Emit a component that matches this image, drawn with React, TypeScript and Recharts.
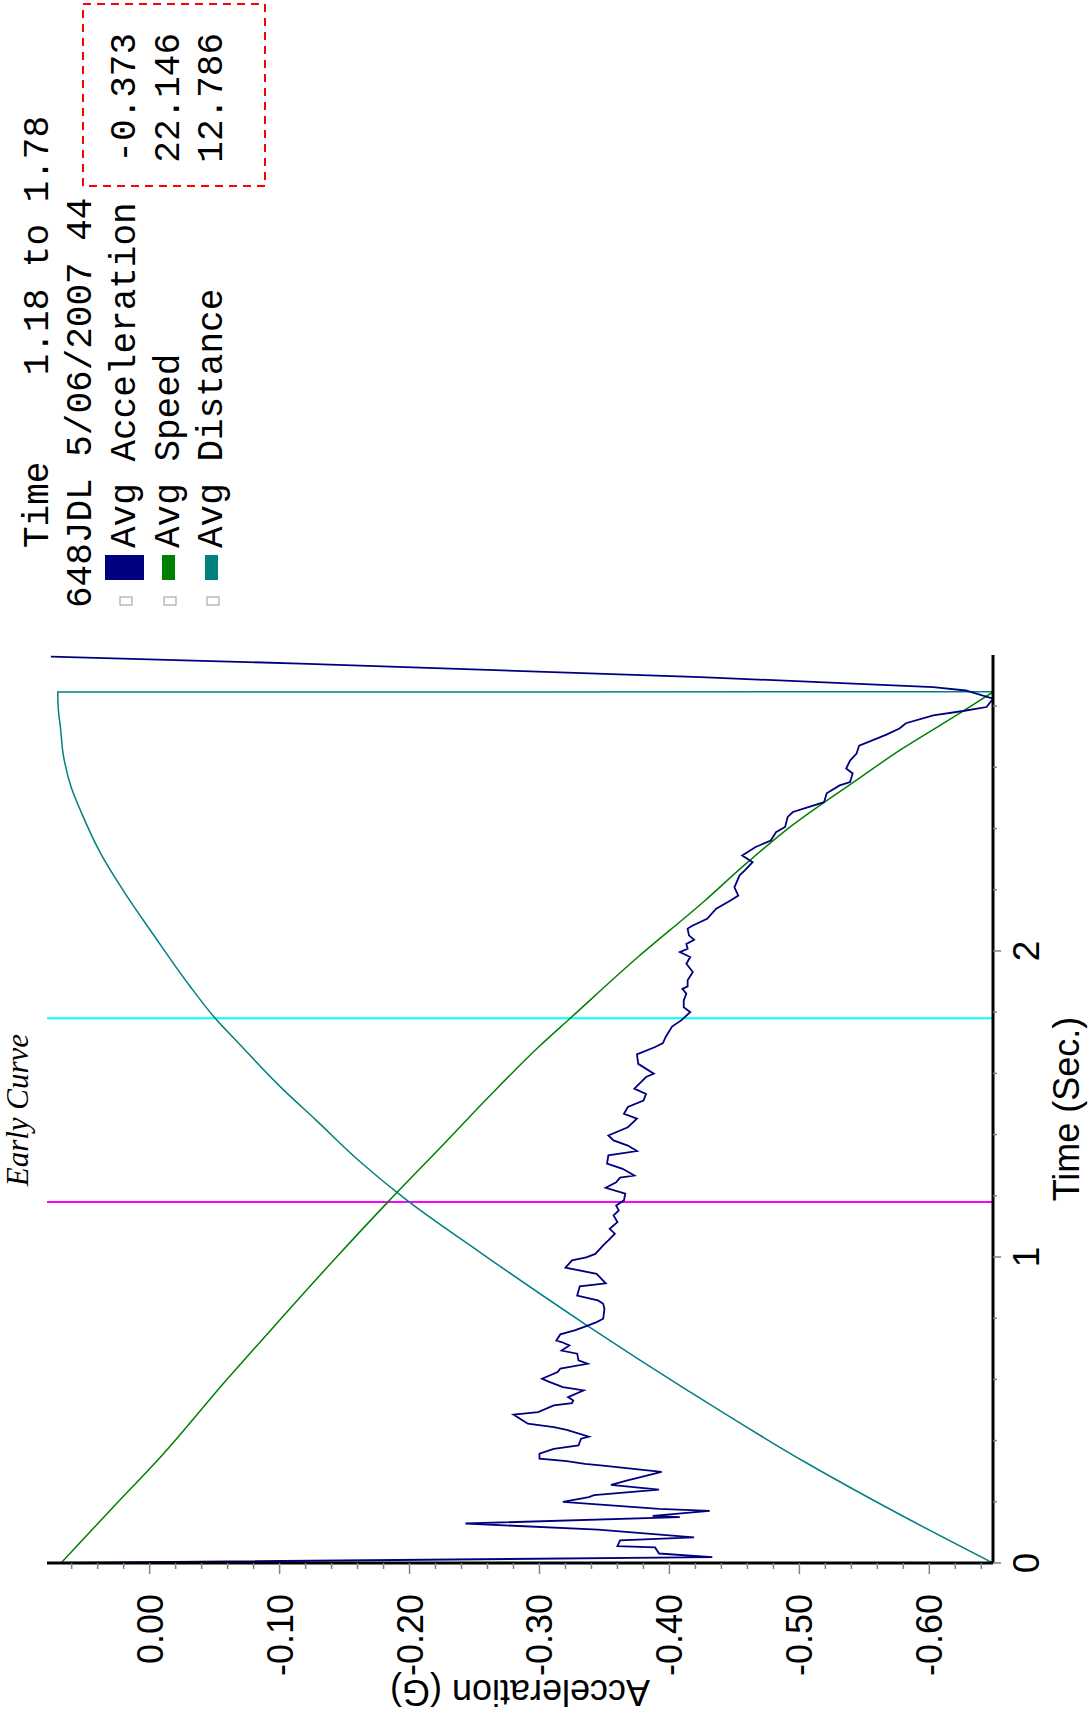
import React from "react";
import {
  LineChart,
  Line,
  XAxis,
  YAxis,
  ReferenceLine,
  ReferenceArea,
} from "recharts";

// chart is drawn in its natural orientation, then the whole thing is turned 90deg ccw
const CHART_W = 1719;
const CHART_H = 1092;

// acceleration (G) vs time (s)
const accTime = [
  0, 0.019, 0.031, 0.051, 0.055, 0.074, 0.084, 0.109, 0.129, 0.15,
  0.154, 0.17, 0.177, 0.188, 0.2, 0.215, 0.222, 0.24, 0.255, 0.269,
  0.298, 0.319, 0.324, 0.333, 0.341, 0.357, 0.373, 0.384, 0.406, 0.413,
  0.435, 0.444, 0.455, 0.485, 0.493, 0.515, 0.522, 0.531, 0.542, 0.564,
  0.575, 0.591, 0.602, 0.624, 0.635, 0.651, 0.662, 0.684, 0.694, 0.711,
  0.722, 0.727, 0.747, 0.76, 0.771, 0.787, 0.798, 0.831, 0.847, 0.858,
  0.874, 0.904, 0.914, 0.945, 0.965, 0.989, 0.999, 1.01, 1.038, 1.054,
  1.076, 1.092, 1.114, 1.136, 1.152, 1.168, 1.185, 1.207, 1.226, 1.244,
  1.259, 1.266, 1.288, 1.305, 1.332, 1.346, 1.364, 1.381, 1.397, 1.424,
  1.452, 1.468, 1.49, 1.511, 1.533, 1.55, 1.588, 1.599, 1.631, 1.662,
  1.686, 1.699, 1.718, 1.753, 1.773, 1.8, 1.816, 1.838, 1.86, 1.876,
  1.884, 1.904, 1.931, 1.958, 1.98, 1.996, 2.007, 2.023, 2.036, 2.051,
  2.073, 2.083, 2.105, 2.138, 2.165, 2.181, 2.208, 2.247, 2.263, 2.29,
  2.312, 2.339, 2.361, 2.388, 2.405, 2.438, 2.454, 2.486, 2.515, 2.541,
  2.552, 2.58, 2.596, 2.622, 2.645, 2.671, 2.707, 2.727, 2.744, 2.77,
  2.784, 2.797, 2.824, 2.851, 2.862, 2.895, 2.939, 2.962,
];
const accG = [
  0.07, -0.433, -0.392, -0.389, -0.36, -0.362, -0.419, -0.345, -0.243, -0.408,
  -0.387, -0.431, -0.392, -0.355, -0.318, -0.338, -0.342, -0.392, -0.355, -0.367,
  -0.394, -0.347, -0.335, -0.321, -0.3, -0.3, -0.311, -0.33, -0.332, -0.338,
  -0.321, -0.311, -0.291, -0.28, -0.299, -0.311, -0.325, -0.326, -0.322, -0.334,
  -0.318, -0.308, -0.302, -0.314, -0.316, -0.337, -0.33, -0.329, -0.317, -0.323,
  -0.317, -0.313, -0.316, -0.327, -0.334, -0.344, -0.349, -0.35, -0.349, -0.345,
  -0.329, -0.331, -0.351, -0.344, -0.32, -0.325, -0.336, -0.343, -0.349, -0.353,
  -0.358, -0.354, -0.36, -0.357, -0.361, -0.359, -0.365, -0.366, -0.351, -0.359,
  -0.362, -0.373, -0.364, -0.352, -0.353, -0.375, -0.368, -0.357, -0.353, -0.368,
  -0.375, -0.365, -0.368, -0.38, -0.382, -0.373, -0.382, -0.388, -0.376, -0.375,
  -0.389, -0.395, -0.397, -0.402, -0.409, -0.416, -0.411, -0.411, -0.413, -0.41,
  -0.414, -0.414, -0.418, -0.413, -0.416, -0.408, -0.414, -0.413, -0.419, -0.415,
  -0.414, -0.418, -0.429, -0.436, -0.447, -0.453, -0.45, -0.454, -0.458, -0.464,
  -0.456, -0.466, -0.478, -0.482, -0.489, -0.491, -0.495, -0.519, -0.521, -0.531,
  -0.539, -0.541, -0.536, -0.539, -0.544, -0.546, -0.567, -0.577, -0.582, -0.603,
  -0.626, -0.644, -0.649, -0.628, -0.603, -0.424, -0.116, 0.076,
];

// speed (km/h), own hidden scale
const speedTime = [
  0, 0.18, 0.35, 0.6, 0.72, 1.0, 1.18, 1.37, 1.53, 1.69,
  1.78, 1.98, 2.16, 2.29, 2.41, 2.55, 2.66, 2.78, 2.846,
];
const speedKmh = [
  39.9, 37.7, 35.6, 32.8, 31.4, 28.1, 25.9, 23.5, 21.5, 19.4,
  18.1, 15.2, 12.4, 10.5, 8.6, 6.0, 3.9, 1.35, 0,
];

// distance (m), own hidden scale
const distTime = [
  0, 0.16, 0.33, 0.566, 0.776, 1.016, 1.185, 1.312, 1.448, 1.546,
  1.692, 1.786, 1.887, 2.053, 2.189, 2.318, 2.448, 2.535, 2.644, 2.731,
  2.791, 2.846, 2.847, 2.967,
];
const distM = [
  0, 1.75, 3.5, 5.7, 7.55, 9.55, 10.9, 11.78, 12.6, 13.2,
  14.0, 14.5, 14.95, 15.62, 16.15, 16.6, 16.95, 17.15, 17.3, 17.35,
  17.39, 17.4, 0, 0,
];

const timeTicks = [0, 0.2, 0.4, 0.6, 0.8, 1, 1.2, 1.4, 1.6, 1.8, 2, 2.2, 2.4, 2.6, 2.8];
const accTicks = [
  0.06, 0.04, 0.02, 0, -0.02, -0.04, -0.06, -0.08, -0.1, -0.12, -0.14, -0.16, -0.18,
  -0.2, -0.22, -0.24, -0.26, -0.28, -0.3, -0.32, -0.34, -0.36, -0.38, -0.4, -0.42,
  -0.44, -0.46, -0.48, -0.5, -0.52, -0.54, -0.56, -0.58, -0.6, -0.62, -0.64,
];

const cursorFrom = 1.18;
const cursorTo = 1.78;

const legendNames = ["Avg Acceleration", "Avg Speed", "Avg Distance"];
const legendValues = ["-0.373", "22.146", "12.786"];
const legendColors = ["#000080", "#008000", "#008080"];

const accData = accTime.map((t, i) => ({ t, v: accG[i] }));
const speedData = speedTime.map((t, i) => ({ t, v: speedKmh[i] }));
const distData = distTime.map((t, i) => ({ t, v: distM[i] }));

const SANS = "'Liberation Sans', Arial, sans-serif";
const MONO = "'Liberation Mono', 'Courier New', monospace";
const TICK_COLOR = "#808080";

function TimeTick(props: any) {
  const { x, y, payload } = props;
  const v = payload.value;
  const major = Math.abs(v - Math.round(v)) < 1e-6;
  return (
    <g>
      <line x1={x} y1={y} x2={x} y2={y + (major ? 8 : 4)} stroke={TICK_COLOR} strokeWidth={1.5} />
      {major && (
        <text x={x} y={y + 46} textAnchor="middle" fontFamily={SANS} fontSize={37} fill="#000">
          {Math.round(v)}
        </text>
      )}
    </g>
  );
}

function AccTick(props: any) {
  const { x, y, payload } = props;
  const v = payload.value;
  const major = Math.abs(v * 10 - Math.round(v * 10)) < 1e-6;
  return (
    <g>
      <line x1={x} y1={y} x2={x - (major ? 11 : 6)} y2={y} stroke={TICK_COLOR} strokeWidth={1.5} />
      {major && (
        <text x={x - 31} y={y + 13} textAnchor="end" fontFamily={SANS} fontSize={36} fill="#000">
          {v.toFixed(2)}
        </text>
      )}
    </g>
  );
}

const timeTitle = (props: any) => {
  const vb = props.viewBox;
  const cx = vb.x + vb.width / 2;
  return (
    <text x={cx} y={vb.y + 86} textAnchor="middle" fontFamily={SANS} fontSize={36} fill="#000">
      Time (Sec.)
    </text>
  );
};

const accTitle = (props: any) => {
  const vb = props.viewBox;
  const bx = vb.x + 39;
  const cy = vb.y + vb.height / 2;
  return (
    <text x={bx} y={cy} textAnchor="middle" transform={`rotate(-90 ${bx} ${cy})`}
      fontFamily={SANS} fontSize={36} fill="#000">
      Acceleration (G)
    </text>
  );
};

function LegendBlock() {
  const rowY = [36, 79, 123, 167, 210];
  const textX = 1171;
  return (
    <svg width={CHART_W} height={CHART_H} style={{ position: "absolute", left: 0, top: 0, pointerEvents: "none" }}>
      <g fontFamily={MONO} fontSize={36} fill="#000">
        <text x={textX} y={rowY[0] + 12} xmlSpace="preserve" style={{ whiteSpace: "pre" }}>
          {"Time    " + cursorFrom.toFixed(2) + " to " + cursorTo.toFixed(2)}
        </text>
        <text x={1111} y={rowY[1] + 12}>648JDL 5/06/2007 44</text>
        {legendNames.map((name, i) => {
          const c = rowY[i + 2];
          const wide = i === 0;
          return (
            <g key={name}>
              <rect x={1114} y={c - 3} width={8} height={12} fill="none" stroke="#999" strokeWidth={1} />
              <rect x={1139} y={wide ? c - 18 : c - 5} width={25} height={wide ? 39 : 13} fill={legendColors[i]} />
              <text x={textX} y={c + 12}>{name}</text>
              <text x={1686} y={c + 12} textAnchor="end">{legendValues[i]}</text>
            </g>
          );
        })}
      </g>
      <rect x={1533} y={83} width={182} height={182} fill="none" stroke="#ff0000" strokeWidth={2} strokeDasharray="8 6" />
    </svg>
  );
}

export default function App() {
  return (
    <div style={{ position: "absolute", left: 0, top: 0, width: 1092, height: 1719, overflow: "hidden", background: "#fff" }}>
      <div
        style={{
          position: "absolute",
          left: 0,
          top: 0,
          width: CHART_W,
          height: CHART_H,
          transformOrigin: "0 0",
          transform: `translateY(${CHART_W}px) rotate(-90deg)`,
        }}
      >
        <LineChart width={CHART_W} height={CHART_H} margin={{ top: 47, right: 655, bottom: 0, left: 0 }}>
          <XAxis
            type="number"
            dataKey="t"
            domain={[0, 2.967]}
            allowDataOverflow
            ticks={timeTicks}
            interval={0}
            tick={<TimeTick />}
            tickLine={false}
            tickSize={0}
            tickMargin={0}
            height={99}
            axisLine={{ stroke: "#000", strokeWidth: 3 }}
            label={{ content: timeTitle }}
          />
          <YAxis
            yAxisId="acc"
            type="number"
            domain={[-0.649, 0.079]}
            allowDataOverflow
            ticks={accTicks}
            interval={0}
            tick={<AccTick />}
            tickLine={false}
            tickSize={0}
            tickMargin={0}
            width={156}
            axisLine={{ stroke: "#000", strokeWidth: 3 }}
            label={{ content: accTitle }}
          />
          <YAxis yAxisId="spd" type="number" domain={[0, 40.5]} allowDataOverflow hide />
          <YAxis yAxisId="dist" type="number" domain={[0, 17.6]} allowDataOverflow hide />

          <ReferenceArea
            yAxisId="acc"
            x1={cursorFrom}
            x2={cursorTo}
            fill="none"
            fillOpacity={0}
            stroke="none"
            label={{
              value: "Early Curve",
              position: "top",
              offset: 19,
              fontFamily: "'Liberation Serif', 'Times New Roman', serif",
              fontStyle: "italic",
              fontSize: 31,
              fill: "#000",
            }}
          />
          <ReferenceLine yAxisId="acc" x={cursorFrom} stroke="#ff00ff" strokeWidth={2} />
          <ReferenceLine yAxisId="acc" x={cursorTo} stroke="#00ffff" strokeWidth={2} />

          <Line yAxisId="dist" data={distData} dataKey="v" type="monotone" stroke="#008080"
            strokeWidth={1.5} dot={false} isAnimationActive={false} />
          <Line yAxisId="spd" data={speedData} dataKey="v" type="monotone" stroke="#008000"
            strokeWidth={1.5} dot={false} isAnimationActive={false} />
          <Line yAxisId="acc" data={accData} dataKey="v" type="linear" stroke="#000080"
            strokeWidth={1.8} dot={false} isAnimationActive={false} />
        </LineChart>
        <LegendBlock />
      </div>
    </div>
  );
}
